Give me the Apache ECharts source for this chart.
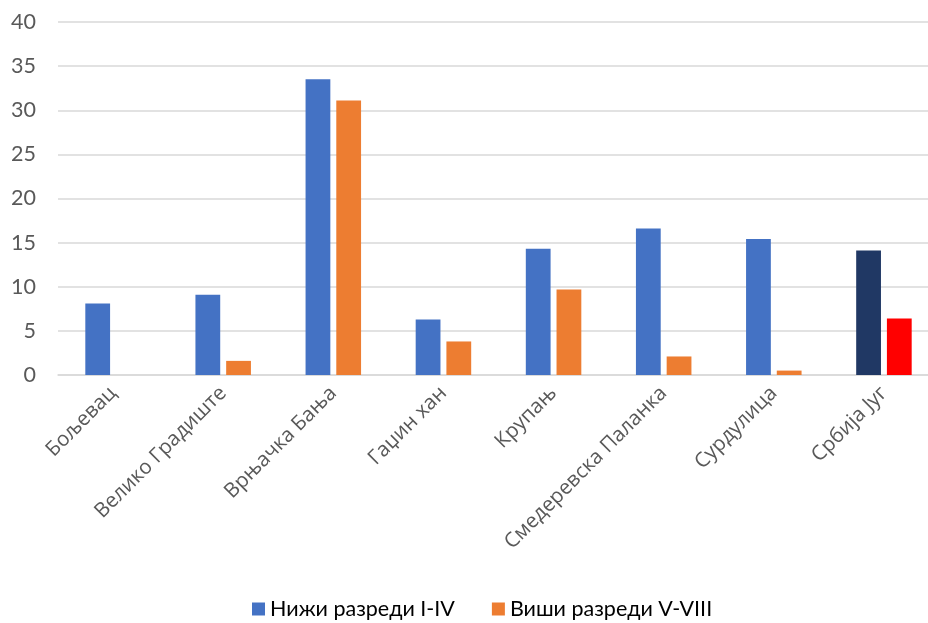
<!DOCTYPE html>
<html>
<head>
<meta charset="utf-8">
<script src="https://cdn.jsdelivr.net/npm/echarts@6/dist/echarts.min.js"></script>
<style>
html,body{margin:0;padding:0;background:#fff;overflow:hidden;}
#chart{width:939px;height:623px;}
</style>
</head>
<body>
<div id="chart"></div>
<script>
const categories = ['Бољевац', 'Велико Градиште', 'Врњачка Бања', 'Гаџин хан', 'Крупањ', 'Смедеревска Паланка', 'Сурдулица', 'Србија Југ'];
const seriesNames = ['Нижи разреди I-IV', 'Виши разреди V-VIII'];
const lowerGrades = [8.1, 9.1, 33.5, 6.3, 14.3, 16.6, 15.4, 14.1];
const upperGrades = [0, 1.6, 31.1, 3.8, 9.7, 2.1, 0.5, 6.4];
const yTicks = [0, 5, 10, 15, 20, 25, 30, 35, 40];

const FONT = 'Lato';
const LABEL_FONT = 'Open Sans';
const highlightIndex = categories.length - 1;
function buildData(values, highlightColor) {
  return values.map((v, i) => i === highlightIndex ? { value: v, itemStyle: { color: highlightColor } } : v);
}

const chart = echarts.init(document.getElementById('chart'), null, { renderer: 'canvas' });
chart.setOption({
  animation: false,
  textStyle: { fontFamily: FONT },
  grid: { left: 58, right: 0, top: 22, bottom: 248, containLabel: false },
  legend: {
    data: seriesNames,
    top: 593,
    left: 247,
    itemWidth: 13,
    itemHeight: 13,
    itemGap: 37,
    icon: 'rect',
    textStyle: { fontFamily: FONT, fontSize: 21.5, color: '#000' }
  },
  xAxis: {
    type: 'category',
    data: categories,
    axisLine: { show: true, lineStyle: { color: '#d9d9d9', width: 1.5 } },
    axisTick: { show: false },
    axisLabel: { rotate: 45, margin: 15, fontSize: 20.5, color: '#595959', fontFamily: LABEL_FONT, interval: 0, align: 'right', verticalAlign: 'middle' }
  },
  yAxis: {
    type: 'value',
    min: yTicks[0],
    max: yTicks[yTicks.length - 1],
    interval: yTicks[1] - yTicks[0],
    axisLine: { show: false },
    axisTick: { show: false },
    splitLine: { lineStyle: { color: '#d9d9d9', width: 1.5 } },
    axisLabel: { fontSize: 21.5, color: '#595959', fontFamily: FONT, margin: 22 }
  },
  series: [
    {
      name: seriesNames[0],
      type: 'bar',
      data: buildData(lowerGrades, '#203864'),
      itemStyle: { color: '#4472C4' },
      barWidth: '22.5%',
      barGap: '24%'
    },
    {
      name: seriesNames[1],
      type: 'bar',
      data: buildData(upperGrades, '#FF0000'),
      itemStyle: { color: '#ED7D31' },
      barWidth: '22.5%',
      barGap: '24%'
    }
  ]
});
</script>
</body>
</html>
